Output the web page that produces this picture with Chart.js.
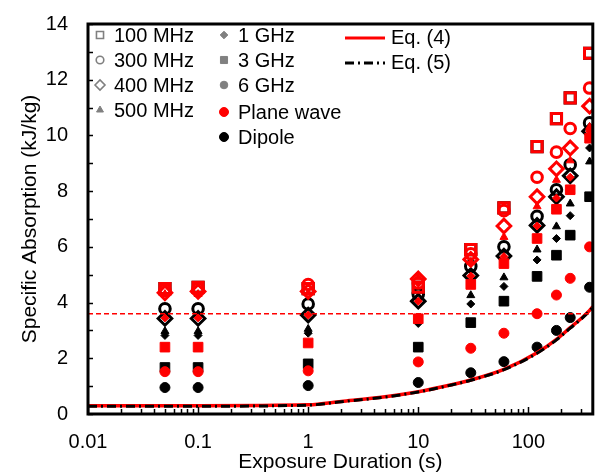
<!DOCTYPE html>
<html>
<head>
<meta charset="utf-8">
<script src="https://cdn.jsdelivr.net/npm/chart.js@4.4.1/dist/chart.umd.min.js"></script>
<style>
  html, body { margin: 0; padding: 0; background: #fff; }
</style>
</head>
<body>
<canvas id="sa" width="603" height="475"></canvas>
<script>
// exposure durations (s)
const durations = [0.05, 0.1, 1, 10, 30, 60, 120, 180, 240, 360];

// specific absorption (kJ/kg), plane wave exposure
const pw100MHz = [4.5, 4.55, 4.5, 4.55, 5.9, 7.4, 9.6, 10.6, 11.35, 12.95];
const pw300MHz = [4.45, 4.5, 4.65, 4.7, 5.75, 7.3, 8.5, 9.4, 10.25, 11.7];
const pw400MHz = [4.35, 4.4, 4.4, 4.85, 5.55, 6.75, 7.8, 8.8, 9.55, 11.05];
const pw500MHz = [4.3, 4.3, 4.35, 4.9, 5.45, 6.35, 7.45, 8.4, 9.1, 10.3];
const pw1GHz = [3.45, 3.45, 3.55, 4.05, 4.95, 5.65, 6.75, 7.75, 8.5, 10.15];
const pw3GHz = [2.4, 2.4, 2.55, 3.42, 4.65, 5.4, 6.3, 7.35, 8.05, 9.9];
const pw6GHz = [1.52, 1.52, 1.55, 1.87, 2.36, 2.9, 3.6, 4.27, 4.87, 6.0];

// specific absorption (kJ/kg), dipole exposure
const dp100MHz = [4.5, 4.55, 4.5, 4.55, 5.9, 7.4, 9.6, 10.6, 11.35, 12.95];
const dp300MHz = [3.78, 3.78, 3.95, 4.3, 5.3, 6.0, 7.1, 8.05, 8.95, 10.45];
const dp400MHz = [3.43, 3.43, 3.55, 4.05, 4.97, 5.67, 6.77, 7.8, 8.55, 10.15];
const dp500MHz = [2.97, 2.97, 3.05, 3.4, 4.26, 4.9, 5.9, 6.73, 7.55, 9.06];
const dp1GHz = [2.82, 2.82, 2.9, 3.25, 3.95, 4.58, 5.53, 6.3, 7.12, 9.55];
const dp3GHz = [1.67, 1.67, 1.8, 2.4, 3.28, 4.05, 4.94, 5.7, 6.42, 7.8];
const dp6GHz = [0.95, 0.95, 1.02, 1.13, 1.48, 1.88, 2.4, 3.0, 3.46, 4.55];

// Eq. (4) and Eq. (5) curves
const eqTimes = [0.01, 0.1, 1, 2, 5, 10, 20, 30, 60, 120, 180, 240, 300, 360, 385];
const eq4Values = [0.3, 0.3, 0.33, 0.45, 0.62, 0.8, 1.05, 1.22, 1.6, 2.2, 2.68, 3.1, 3.42, 3.72, 3.85];
const eq5Values = [0.28, 0.28, 0.32, 0.44, 0.61, 0.79, 1.04, 1.21, 1.59, 2.18, 2.66, 3.08, 3.4, 3.7, 3.83];

const limitLevel = 3.6;

const xTickValues = [0.01, 0.1, 1, 10, 100];
const xTickLabels = ['0.01', '0.1', '1', '10', '100'];
const yTickValues = [0, 2, 4, 6, 8, 10, 12, 14];

const X_MAX = 385;
const RED = '#ff0000';
const FONT = "'Liberation Sans', Arial, sans-serif";

const freqStyles = [
  { label: '100 MHz', pointStyle: 'rect', radius: 7.2, open: true },
  { label: '300 MHz', pointStyle: 'circle', radius: 5.3, open: true },
  { label: '400 MHz', pointStyle: 'rectRot', radius: 6.8, open: true },
  { label: '500 MHz', pointStyle: 'triangle', radius: 4.6, open: false },
  { label: '1 GHz', pointStyle: 'rectRot', radius: 4, open: false },
  { label: '3 GHz', pointStyle: 'rect', radius: 6.8, open: false },
  { label: '6 GHz', pointStyle: 'circle', radius: 5, open: false }
];

function markerSet(values, colour, style) {
  return {
    data: values.map((v, i) => ({ x: durations[i], y: v })),
    showLine: false,
    pointStyle: style.pointStyle,
    pointRadius: style.radius,
    pointHoverRadius: style.radius,
    pointBorderWidth: style.open ? 3 : 1,
    pointBorderColor: colour,
    pointBackgroundColor: style.open ? 'rgba(0,0,0,0)' : colour
  };
}

function curveSet(values, colour, dash, width) {
  return {
    data: values.map((v, i) => ({ x: eqTimes[i], y: v })),
    showLine: true,
    borderColor: colour,
    borderWidth: width,
    borderDash: dash,
    pointRadius: 0,
    cubicInterpolationMode: 'monotone'
  };
}

const planeWave = [pw100MHz, pw300MHz, pw400MHz, pw500MHz, pw1GHz, pw3GHz, pw6GHz];
const dipole = [dp100MHz, dp300MHz, dp400MHz, dp500MHz, dp1GHz, dp3GHz, dp6GHz];

// first dataset is painted last, so lines sit on top, then red, then black
const datasets = [
  {
    data: [{ x: 0.01, y: limitLevel }, { x: X_MAX, y: limitLevel }],
    showLine: true,
    borderColor: RED,
    borderWidth: 1.5,
    borderDash: [5, 3],
    pointRadius: 0
  },
  curveSet(eq5Values, '#000000', [9, 4, 2, 4], 3),
  curveSet(eq4Values, RED, [], 3.5),
  ...planeWave.map((vals, i) => markerSet(vals, RED, freqStyles[i])),
  ...dipole.map((vals, i) => markerSet(vals, '#000000', freqStyles[i]))
];

const framePlugin = {
  id: 'frame',
  afterDraw(chart) {
    const { ctx, chartArea: a, scales } = chart;
    ctx.save();
    ctx.strokeStyle = '#000';
    ctx.lineWidth = 1.5;
    ctx.beginPath();
    scales.x.ticks.forEach(t => {
      const px = Math.round(scales.x.getPixelForValue(t.value)) + 0.5;
      const len = xTickValues.includes(t.value) ? 7 : 5;
      ctx.moveTo(px, a.bottom);
      ctx.lineTo(px, a.bottom - len);
    });
    for (let v = 0; v <= 14; v++) {
      const py = Math.round(scales.y.getPixelForValue(v)) + 0.5;
      ctx.moveTo(a.left, py);
      ctx.lineTo(a.left + 5, py);
    }
    ctx.stroke();
    ctx.lineWidth = 3;
    ctx.strokeRect(a.left, a.top, a.right - a.left, a.bottom - a.top);
    ctx.restore();
  }
};

const legendPlugin = {
  id: 'sketchLegend',
  afterDraw(chart) {
    const { ctx } = chart;
    const grey = '#808080';
    const legendStyles = [
      { pointStyle: 'rect', radius: 5, open: true },
      { pointStyle: 'circle', radius: 3.8, open: true },
      { pointStyle: 'rectRot', radius: 5, open: true },
      { pointStyle: 'triangle', radius: 4, open: false },
      { pointStyle: 'rectRot', radius: 3.8, open: false },
      { pointStyle: 'rect', radius: 5, open: false },
      { pointStyle: 'circle', radius: 3.8, open: false }
    ];
    const slots = [
      [100, 35], [100, 60], [100, 85], [100, 110],
      [224, 35], [224, 60], [224, 85]
    ];
    ctx.save();
    ctx.font = '20px ' + FONT;
    ctx.textBaseline = 'middle';
    ctx.fillStyle = '#000';

    const mark = (style, colour, x, y) => {
      ctx.fillStyle = style.open ? '#fff' : colour;
      ctx.strokeStyle = colour;
      ctx.lineWidth = style.open ? 1.6 : 1;
      Chart.helpers.drawPoint(ctx, { pointStyle: style.pointStyle, radius: style.radius, rotation: 0, borderWidth: ctx.lineWidth }, x, y);
    };
    const text = (s, x, y) => {
      ctx.fillStyle = '#000';
      ctx.fillText(s, x, y);
    };

    freqStyles.forEach((f, i) => {
      const [x, y] = slots[i];
      mark(legendStyles[i], grey, x, y);
      text(f.label, x + 14, y + 1);
    });
    mark({ pointStyle: 'circle', radius: 4.5, open: false }, RED, 224, 112);
    text('Plane wave', 238, 113);
    mark({ pointStyle: 'circle', radius: 4.5, open: false }, '#000', 224, 137);
    text('Dipole', 238, 138);

    // equation lines
    ctx.lineWidth = 3;
    ctx.strokeStyle = RED;
    ctx.setLineDash([]);
    ctx.beginPath();
    ctx.moveTo(345, 38);
    ctx.lineTo(385, 38);
    ctx.stroke();
    ctx.strokeStyle = '#000';
    ctx.setLineDash([9, 4, 2, 4]);
    ctx.beginPath();
    ctx.moveTo(345, 63);
    ctx.lineTo(385, 63);
    ctx.stroke();
    ctx.setLineDash([]);
    text('Eq. (4)', 391, 38);
    text('Eq. (5)', 391, 63);
    ctx.restore();
  }
};

new Chart(document.getElementById('sa'), {
  type: 'scatter',
  data: { datasets },
  plugins: [framePlugin, legendPlugin],
  options: {
    responsive: false,
    animation: false,
    devicePixelRatio: 1,
    layout: { padding: { top: 6, right: 6, left: 0, bottom: 0 } },
    plugins: {
      legend: { display: false },
      tooltip: { enabled: false }
    },
    scales: {
      x: {
        type: 'logarithmic',
        min: 0.01,
        max: X_MAX,
        grid: { display: false },
        border: { display: false },
        afterBuildTicks: axis => {
          const ticks = [];
          for (let e = -2; e <= 2; e++) {
            for (let m = 1; m <= 9; m++) {
              const v = parseFloat((m * Math.pow(10, e)).toPrecision(3));
              if (v <= X_MAX) ticks.push({ value: v });
            }
          }
          axis.ticks = ticks;
        },
        ticks: {
          autoSkip: false,
          maxRotation: 0,
          padding: 8,
          color: '#000',
          font: { family: FONT, size: 20 },
          callback: value => {
            const i = xTickValues.indexOf(value);
            return i >= 0 ? xTickLabels[i] : '';
          }
        },
        title: {
          display: true,
          text: 'Exposure Duration (s)',
          color: '#000',
          font: { family: FONT, size: 21 },
          padding: { top: 0, bottom: 0 }
        },
        afterFit: axis => { axis.height = 61; }
      },
      y: {
        min: 0,
        max: 14,
        grid: { display: false },
        border: { display: false },
        afterBuildTicks: axis => {
          axis.ticks = yTickValues.map(v => ({ value: v }));
        },
        ticks: {
          padding: 12,
          color: '#000',
          font: { family: FONT, size: 20 }
        },
        title: {
          display: true,
          text: 'Specific Absorption (kJ/kg)',
          color: '#000',
          font: { family: FONT, size: 21 },
          padding: { top: 18, bottom: 0 }
        },
        afterFit: axis => { axis.width = 88; }
      }
    }
  }
});
</script>
</body>
</html>
